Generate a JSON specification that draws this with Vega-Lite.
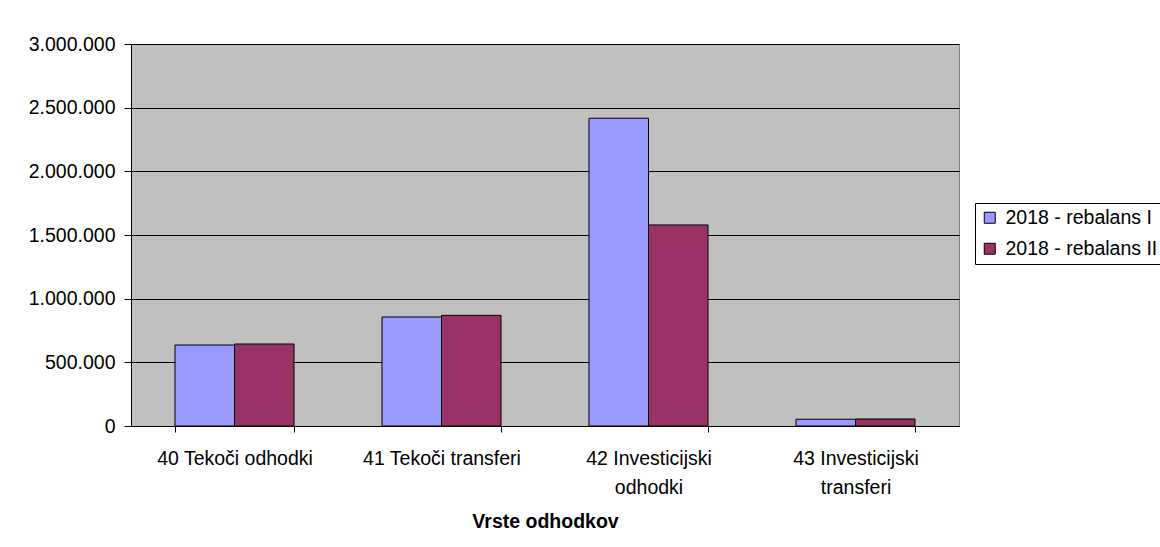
{
  "$schema": "https://vega.github.io/schema/vega-lite/v6.json",
  "width": 828,
  "height": 382,
  "autosize": "none",
  "padding": {"left": 131, "top": 44, "right": 201, "bottom": 121},
  "background": "white",
  "config": {
    "locale": {"number": {"decimal": ",", "thousands": ".", "grouping": [3], "currency": ["", " €"]}},
    "view": {"fill": "#C0C0C0", "stroke": "#808080", "strokeWidth": 1},
    "font": "Liberation Sans"
  },
  "data": {
    "values": [
      {"vrsta": "40 Tekoči odhodki", "serija": "2018 - rebalans I", "vrednost": 636000},
      {"vrsta": "40 Tekoči odhodki", "serija": "2018 - rebalans II", "vrednost": 644000},
      {"vrsta": "41 Tekoči transferi", "serija": "2018 - rebalans I", "vrednost": 856000},
      {"vrsta": "41 Tekoči transferi", "serija": "2018 - rebalans II", "vrednost": 869000},
      {"vrsta": "42 Investicijski|odhodki", "serija": "2018 - rebalans I", "vrednost": 2417000},
      {"vrsta": "42 Investicijski|odhodki", "serija": "2018 - rebalans II", "vrednost": 1579000},
      {"vrsta": "43 Investicijski|transferi", "serija": "2018 - rebalans I", "vrednost": 53000},
      {"vrsta": "43 Investicijski|transferi", "serija": "2018 - rebalans II", "vrednost": 55000}
    ]
  },
  "mark": {"type": "bar", "stroke": "black", "strokeWidth": 1},
  "encoding": {
    "x": {
      "field": "vrsta",
      "type": "nominal",
      "sort": null,
      "scale": {"paddingInner": 0.425, "paddingOuter": 0.2125},
      "axis": {
        "title": "Vrste odhodkov",
        "titleFontSize": 19.5,
        "titleFontWeight": "bold",
        "titleColor": "black",
        "titleBaseline": "top",
        "titleY": 86,
        "labelAngle": 0,
        "labelExpr": "split(datum.label, '|')",
        "labelFontSize": 19.5,
        "labelColor": "black",
        "labelBaseline": "top",
        "labelLineHeight": 29,
        "labelPadding": 17,
        "tickBand": "extent",
        "tickSize": 6,
        "tickColor": "black",
        "domainColor": "black"
      }
    },
    "xOffset": {"field": "serija", "sort": null, "scale": {"paddingInner": 0, "paddingOuter": 0}},
    "y": {
      "field": "vrednost",
      "type": "quantitative",
      "scale": {"domain": [0, 3000000], "nice": false},
      "axis": {
        "title": null,
        "values": [0, 500000, 1000000, 1500000, 2000000, 2500000, 3000000],
        "format": ",d",
        "labelFontSize": 19.5,
        "labelColor": "black",
        "labelPadding": 9,
        "tickSize": 7,
        "tickColor": "black",
        "domainColor": "black",
        "grid": true,
        "gridColor": "black",
        "gridOpacity": 1
      }
    },
    "color": {
      "field": "serija",
      "type": "nominal",
      "scale": {"domain": ["2018 - rebalans I", "2018 - rebalans II"], "range": ["#9999FF", "#993366"]},
      "legend": {
        "title": null,
        "orient": "none",
        "legendX": 844,
        "legendY": 159,
        "strokeColor": "black",
        "fillColor": "white",
        "padding": 5,
        "symbolType": "square",
        "symbolSize": 121,
        "symbolStrokeColor": "black",
        "symbolStrokeWidth": 1,
        "symbolOpacity": 1,
        "labelFontSize": 19.5,
        "labelColor": "black",
        "labelOffset": 6,
        "rowPadding": 10
      }
    }
  }
}
